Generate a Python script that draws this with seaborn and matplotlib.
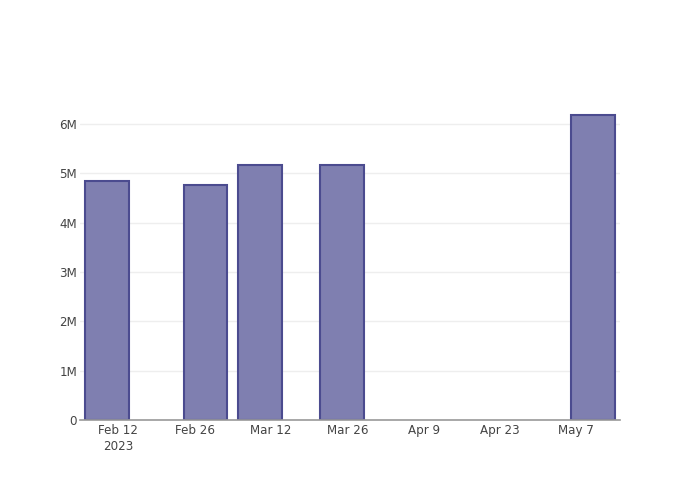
import numpy as np
import pandas as pd
import matplotlib
matplotlib.use('Agg')
import matplotlib.pyplot as plt
import matplotlib.dates as mdates
import seaborn as sns

# data
dates = ['2023-02-10', '2023-02-28', '2023-03-10', '2023-03-25', '2023-05-10']
values = [4.85e6, 4.77e6, 5.18e6, 5.18e6, 6.18e6]

tick_dates = ['2023-02-12', '2023-02-26', '2023-03-12', '2023-03-26',
              '2023-04-09', '2023-04-23', '2023-05-07']
tick_labels = ['Feb 12\n2023', 'Feb 26', 'Mar 12', 'Mar 26', 'Apr 9', 'Apr 23', 'May 7']
y_ticks = [0, 1e6, 2e6, 3e6, 4e6, 5e6, 6e6]
y_labels = ['0', '1M', '2M', '3M', '4M', '5M', '6M']

df = pd.DataFrame({'date': mdates.date2num(pd.to_datetime(dates)), 'value': values})

sns.set_style('white')
plt.rcParams['font.family'] = ['DejaVu Sans']

fig = plt.figure(figsize=(7, 5), dpi=100)
ax = fig.add_axes([80 / 700, 80 / 500, 540 / 700, 320 / 500])

sns.barplot(
    data=df, x='date', y='value',
    native_scale=True, orient='x', width=0.8,
    color='#7f7fb0', saturation=1, edgecolor='#4b4b8f', linewidth=1.5,
    errorbar=None, ax=ax, zorder=3
)

ax.set_xlim(mdates.date2num(pd.Timestamp('2023-02-05')),
            mdates.date2num(pd.Timestamp('2023-05-15')))
ax.set_ylim(0, 6.49e6)

ax.set_xticks(mdates.date2num(pd.to_datetime(tick_dates)))
ax.set_xticklabels(tick_labels, fontsize=8.6, color='#444444', linespacing=1.25)
ax.set_yticks(y_ticks)
ax.set_yticklabels(y_labels, fontsize=8.6, color='#444444')
ax.tick_params(axis='both', length=0)
ax.tick_params(axis='x', pad=3)
ax.tick_params(axis='y', pad=2)

ax.grid(axis='y', color='#eeeeee', linewidth=1, zorder=0)
ax.grid(axis='x', visible=False)
for side in ['top', 'right', 'left']:
    ax.spines[side].set_visible(False)
ax.spines['bottom'].set_color('#999999')
ax.spines['bottom'].set_linewidth(1.2)
ax.spines['bottom'].set_zorder(4)

ax.set_xlabel('')
ax.set_ylabel('')

plt.savefig('out.png', dpi=100)
plt.close()
